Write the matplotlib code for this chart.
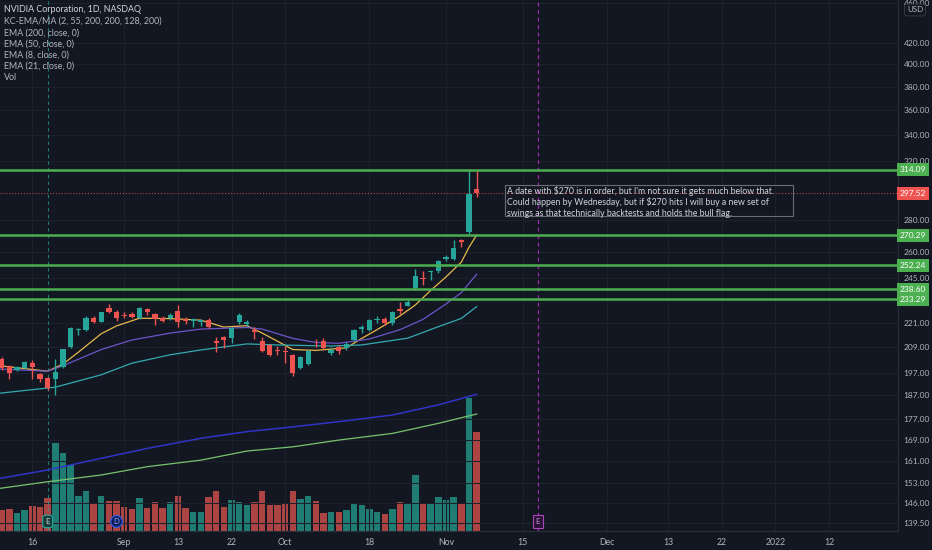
import matplotlib
matplotlib.use("Agg")
import matplotlib.pyplot as plt
from matplotlib import transforms as mtrans
from matplotlib.patches import Rectangle
from matplotlib.ticker import NullLocator

plt.rcParams['font.family'] = ['Lato', 'DejaVu Sans']

# ---------------- data ----------------
opens = [203.2, 200.2, 198.3, 199.0, 201.5, 196.3, 194.8, 194.4, 199.5, 208.9,
         217.2, 217.3, 223.3, 221.5, 228.4, 226.7, 225.1, 225.5, 223.3, 228.0,
         225.3, 223.6, 223.3, 227.0, 222.9, 222.0, 221.2, 222.5, 212.0, 213.8,
         213.5, 221.2, 220.5, 217.3, 212.1, 209.9, 207.6, 207.3, 205.0, 199.1,
         201.0, 212.0, 211.7, 206.2, 209.0, 208.5, 212.4, 217.7, 217.3, 222.4,
         222.7, 220.7, 228.0, 229.9, 239.3, 244.9, 248.3, 248.6, 255.7, 256.0,
         267.1, 272.2, 300.4]
highs = [204.1, 200.5, 200.0, 202.3, 202.9, 196.9, 195.1, 203.5, 208.2, 218.6,
         218.5, 224.4, 224.5, 226.6, 230.5, 227.5, 226.6, 226.4, 229.3, 228.7,
         225.9, 224.5, 225.8, 230.1, 224.0, 223.2, 223.0, 223.2, 213.8, 214.5,
         219.0, 226.0, 222.5, 219.0, 213.8, 210.3, 209.6, 209.6, 205.5, 204.8,
         207.5, 213.0, 213.4, 209.0, 210.0, 211.5, 217.8, 220.0, 222.9, 224.4,
         224.0, 227.0, 231.6, 232.6, 250.0, 248.7, 249.3, 255.0, 258.0, 267.1,
         268.1, 313.5, 313.5]
lows = [198.3, 194.3, 197.6, 198.6, 194.3, 193.0, 189.4, 187.4, 199.1, 208.6,
        214.9, 217.0, 221.0, 221.3, 226.0, 222.0, 223.3, 223.3, 222.9, 224.9,
        220.0, 221.2, 222.6, 218.7, 220.5, 219.0, 219.5, 218.2, 206.7, 208.6,
        211.0, 220.5, 219.3, 213.0, 206.5, 204.9, 205.4, 201.5, 195.5, 198.6,
        200.5, 209.0, 208.0, 205.0, 205.5, 207.5, 212.0, 216.0, 216.8, 221.0,
        219.6, 220.0, 225.7, 229.5, 239.0, 240.8, 244.0, 248.0, 254.9, 255.5,
        262.8, 271.0, 295.0]
closes = [199.1, 196.8, 199.5, 201.9, 199.6, 194.2, 190.1, 197.2, 207.9, 218.3,
          217.6, 223.3, 221.6, 226.3, 226.6, 223.6, 224.4, 224.1, 228.4, 226.3,
          222.9, 221.9, 225.0, 221.5, 222.1, 222.7, 222.5, 218.7, 211.0, 212.4,
          218.3, 224.9, 221.2, 216.5, 207.0, 205.1, 207.0, 206.8, 197.0, 204.3,
          206.9, 211.7, 208.7, 207.6, 207.1, 210.5, 217.3, 219.0, 222.4, 222.9,
          220.7, 226.5, 227.2, 231.8, 246.0, 244.1, 248.9, 254.6, 256.9, 262.1,
          266.2, 297.2, 297.52]
volumes = [17.2, 17.8, 14.6, 17.2, 19.8, 19.4, 26.6, 70.6, 62.6, 53.2,
           27.8, 32.4, 22.6, 28.4, 24.4, 23.8, 19.0, 17.8, 26.2, 18.6,
           23.6, 18.6, 23.4, 27.8, 18.8, 15.6, 15.0, 27.4, 32.4, 19.6,
           25.2, 23.4, 21.2, 23.2, 32.0, 20.8, 20.8, 22.6, 32.4, 26.0,
           27.8, 24.2, 14.2, 15.4, 15.6, 17.0, 22.6, 21.0, 17.8, 15.4,
           14.0, 18.0, 23.4, 21.8, 45.0, 22.8, 22.0, 27.4, 24.6, 27.6,
           22.6, 106.6, 79.0]

ema8_x = [-0.2, 6, 8, 10, 13, 15, 18, 22, 26, 29, 32, 34, 36, 38, 41, 45, 47, 49, 52, 54, 56, 58, 60, 61, 62]
ema8_y = [200.2, 197.7, 201.0, 206.5, 215.5, 219.4, 223.3, 223.1, 222.3, 218.8, 219.5, 215.8, 211.8,
          207.8, 207.4, 208.6, 213.2, 217.5, 224.5, 230.2, 238.0, 245.5, 254.0, 262.8, 270.3]
ema21_x = [-0.2, 6, 8, 13, 17, 22, 26, 32, 34, 38, 41, 44, 48, 52, 55, 58, 60, 62]
ema21_y = [198.7, 197.7, 200.2, 207.8, 212.4, 215.8, 217.8, 218.6, 217.8, 213.2, 211.2, 210.8,
           212.9, 217.5, 222.7, 230.7, 236.8, 247.0]
ema50_x = [-0.2, 7, 13, 17, 22, 26, 32, 36, 43, 47, 53, 57, 60, 62]
ema50_y = [188.0, 190.6, 196.1, 201.4, 205.3, 207.6, 210.5, 210.0, 209.5, 210.0, 213.3, 219.0, 223.2, 229.3]
kc_x = [-0.2, 6, 13, 19, 26, 32, 38, 44, 51, 57, 62]
kc_upper = [154.6, 157.6, 161.9, 165.6, 169.5, 172.1, 174.0, 176.1, 178.8, 183.0, 187.5]
ema200 = [151.1, 153.4, 155.8, 158.8, 161.2, 164.6, 166.2, 168.8, 171.4, 175.4, 179.2]

levels = [314.09, 270.29, 252.24, 238.60, 233.29]
last_price = 297.52
price_ticks = [139.5, 146, 153, 161, 169, 177, 187, 197, 209, 221, 245, 260, 280,
               320, 340, 360, 380, 400, 420, 460]
date_tick_idx = [4, 16, 23, 30, 37, 48, 58, 68, 79, 87, 94, 101, 108]
date_tick_labels = ['16', 'Sep', '13', '22', 'Oct', '18', 'Nov', '15', 'Dec', '13', '22', '2022', '12']
legend_lines = ['NVIDIA Corporation, 1D, NASDAQ', 'KC-EMA/MA (2, 55, 200, 200, 128, 200)',
                'EMA (200, close, 0)', 'EMA (50, close, 0)', 'EMA (8, close, 0)',
                'EMA (21, close, 0)', 'Vol']
note = ("A date with $270 is in order, but I'm not sure it gets much below that.\n"
        "Could happen by Wednesday, but if $270 hits I will buy a new set of\n"
        "swings as that technically backtests and holds the bull flag.")
earnings_idx = [6, 70]
dividend_idx = [15]

# ---------------- style ----------------
BG = '#131722'
UP = '#26a69a'
DN = '#ef5350'
VUP = '#1f7d74'
VDN = '#ad4444'
TXT = '#b2b5be'
GRID = '#1d212c'

W, H = 932, 550
fig = plt.figure(figsize=(W / 100, H / 100), dpi=100, facecolor=BG)
ax = fig.add_axes([0, 19 / H, 898 / W, 531 / H])
axv = ax.twinx()
ax.set_zorder(axv.get_zorder() + 1)
ax.patch.set_visible(False)
axv.set_facecolor(BG)

ax.set_yscale('log')
ax.set_ylim(137.0, 463.6)
ax.set_xlim(-0.22, 117.0)
ax.yaxis.set_minor_locator(NullLocator())
ax.set_yticks(price_ticks)
ax.set_yticklabels([f'{t:.2f}' for t in price_ticks])
ax.yaxis.tick_right()
ax.set_xticks(date_tick_idx)
ax.set_xticklabels(date_tick_labels)
ax.tick_params(axis='both', length=0, colors=TXT)
ax.tick_params(axis='y', pad=4, labelsize=6.0)
ax.tick_params(axis='x', pad=5, labelsize=6.3)
ax.grid(True, color=GRID, lw=0.8, zorder=0)
for s in ['top', 'left']:
    ax.spines[s].set_visible(False)
ax.spines['right'].set_color('#2a2e39')
ax.spines['bottom'].set_color('#2a2e39')

# volume
axv.set_ylim(0, 425)
idx = list(range(len(closes)))
vcols = [VUP if c >= o else VDN for o, c in zip(opens, closes)]
axv.bar(idx, volumes, width=0.84, color=vcols, zorder=1)
axv.axis('off')

# candles
ccols = [UP if c >= o else DN for o, c in zip(opens, closes)]
ax.vlines(idx, lows, highs, colors=ccols, lw=1.0, zorder=4)
bottoms = [min(o, c) for o, c in zip(opens, closes)]
heights = [max(abs(c - o), 0.45) for o, c in zip(opens, closes)]
ax.bar(idx, heights, bottom=bottoms, width=0.68, color=ccols, zorder=5)

# indicator lines
ax.plot(ema8_x, ema8_y, color='#e8b84a', lw=0.9, zorder=3)
ax.plot(ema21_x, ema21_y, color='#6d55c8', lw=0.9, zorder=3)
ax.plot(ema50_x, ema50_y, color='#34aab0', lw=0.9, zorder=3)
ax.plot(kc_x, kc_upper, color='#2f34c6', lw=1.1, zorder=3)
ax.plot(kc_x, ema200, color='#78c46e', lw=0.9, zorder=3)

# horizontal levels
for lv in levels:
    ax.axhline(lv, color='#4caf50', lw=1.8, zorder=6)
ax.axhline(last_price, color=DN, lw=0.7, ls=(0, (1, 2)), zorder=2, alpha=0.9)

# vertical event lines
ax.axvline(earnings_idx[0], color='#26a69a', lw=0.8, ls=(0, (3, 3)), alpha=0.7, zorder=2)
ax.axvline(earnings_idx[1], color='#9c27b0', lw=0.9, ls=(0, (3, 3)), zorder=2)

# event markers
bt = mtrans.blended_transform_factory(ax.transData, ax.transAxes)
ax.text(earnings_idx[0], 0.018, 'E', transform=bt, ha='center', va='center', fontsize=5.6,
        color='#d1d4dc', zorder=8,
        bbox=dict(boxstyle='round,pad=0.35', fc='#173c3a', ec='#26a69a', lw=0.8))
ax.text(dividend_idx[0], 0.018, 'D', transform=bt, ha='center', va='center', fontsize=5.6,
        color='#8fa8ff', zorder=8,
        bbox=dict(boxstyle='circle,pad=0.3', fc='#0f1d5a', ec='#2962ff', lw=0.8))
ax.text(earnings_idx[1], 0.018, 'E', transform=bt, ha='center', va='center', fontsize=5.6,
        color='#ce93d8', zorder=8,
        bbox=dict(boxstyle='square,pad=0.4', fc='#2a1236', ec='#ab47bc', lw=0.8))

# price labels on the axis
pt = mtrans.blended_transform_factory(fig.transFigure, ax.transData)
for lv in levels:
    ax.text(899.5 / W, lv, f'{lv:.2f}', transform=pt, ha='left', va='center', fontsize=6.0,
            color='white', zorder=10, clip_on=False,
            bbox=dict(boxstyle='square,pad=0.36', fc='#4caf50', ec='none'))
ax.text(899.5 / W, last_price, f'{last_price:.2f}', transform=pt, ha='left', va='center',
        fontsize=6.0, color='white', zorder=10, clip_on=False,
        bbox=dict(boxstyle='square,pad=0.36', fc=DN, ec='none'))
fig.text(915 / W, 1 - 10 / H, 'USD', ha='center', va='center', fontsize=5.8, color=TXT,
         zorder=10, bbox=dict(boxstyle='round,pad=0.3', fc=BG, ec='#363a45', lw=0.7))

# legend texts
for i, line in enumerate(legend_lines):
    fig.text(4 / W, 1 - (10 + 11.3 * i) / H, line, ha='left', va='center',
             fontsize=6.4, color='#d1d4dc' if i == 0 else TXT)

# note box
fig.text(507 / W, 1 - 185.5 / H, note, ha='left', va='top', fontsize=6.35, color='#d1d4dc',
         linespacing=1.2, zorder=10)
fig.patches.append(Rectangle((505 / W, 1 - 216 / H), 288 / W, 31 / H, transform=fig.transFigure,
                             fill=False, ec='#6a6d78', lw=0.8))

fig.savefig('out.png', dpi=100, facecolor=BG)
